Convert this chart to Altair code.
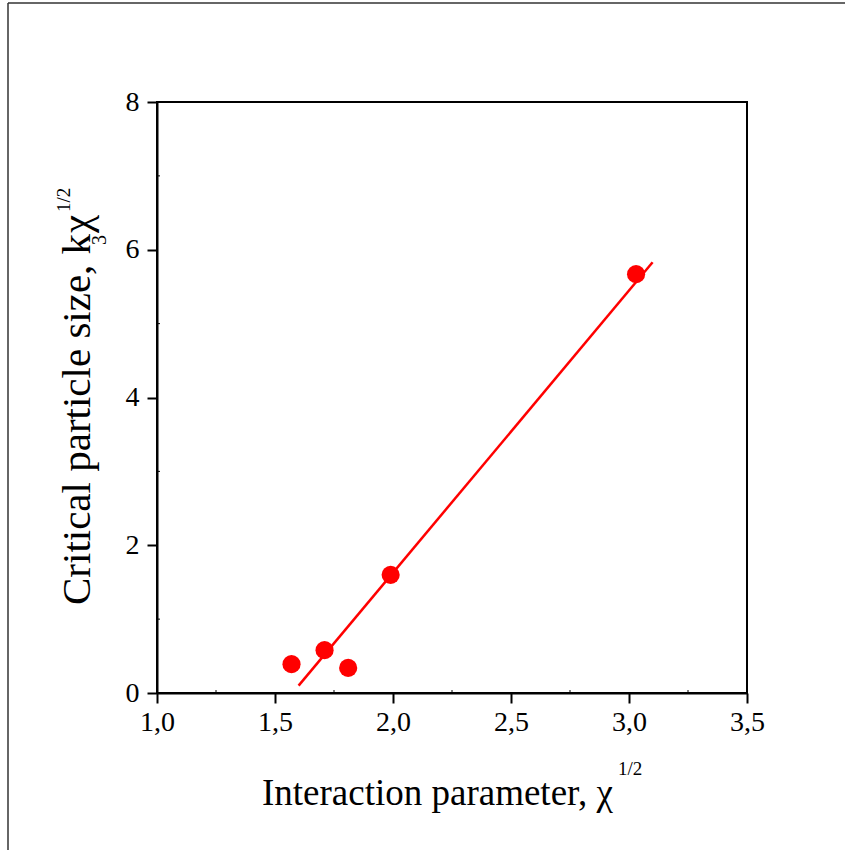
import altair as alt
import pandas as pd

# data
x_vals = [1.57, 1.71, 1.81, 1.99, 3.03]
y_vals = [0.39, 0.58, 0.34, 1.60, 5.67]
fit_x = [1.60, 3.10]
fit_y = [0.10, 5.83]
x_ticks = [1.0, 1.5, 2.0, 2.5, 3.0, 3.5]
y_ticks = [0, 2, 4, 6, 8]
x_minor = [1.25, 1.75, 2.25, 2.75, 3.25]
y_minor = [1, 3, 5, 7]

W, H = 590, 591
FONT = "Liberation Serif"
RED = "#ff0000"

pts = pd.DataFrame({"x": x_vals, "y": y_vals})
fit = pd.DataFrame({"x": fit_x, "y": fit_y})
one = pd.DataFrame({"t": [0]})

xs = alt.Scale(domain=[1.0, 3.5], nice=False, zero=False)
ys = alt.Scale(domain=[0, 8], nice=False, zero=False)

xaxis = alt.Axis(values=x_ticks, title=None, grid=False, labelFlush=False,
                 labelOverlap=False,
                 labelExpr="replace(format(datum.value, '.1f'), '.', ',')")
yaxis = alt.Axis(values=y_ticks, title=None, grid=False, format="d",
                 labelFlush=False, labelOverlap=False)

points = alt.Chart(pts).mark_circle(size=330, color=RED, opacity=1).encode(
    x=alt.X("x:Q", scale=xs, axis=xaxis),
    y=alt.Y("y:Q", scale=ys, axis=yaxis),
)

line = alt.Chart(fit).mark_line(color=RED, strokeWidth=2.5).encode(
    x=alt.X("x:Q", scale=xs),
    y=alt.Y("y:Q", scale=ys),
)

xminor = alt.Chart(pd.DataFrame({"x": x_minor})).mark_rule(color="black", strokeWidth=1).encode(
    x=alt.X("x:Q", scale=xs),
    y=alt.value(H),
    y2=alt.value(H - 3),
)
yminor = alt.Chart(pd.DataFrame({"y": y_minor})).mark_rule(color="black", strokeWidth=1).encode(
    y=alt.Y("y:Q", scale=ys),
    x=alt.value(0),
    x2=alt.value(3),
)


def txt(s, x, y, size, angle=0):
    kw = dict(text=s, font=FONT, fontSize=size, color="black", align="left",
              baseline="alphabetic")
    if angle:
        kw["angle"] = angle
    return alt.Chart(one).mark_text(**kw).encode(x=alt.value(x), y=alt.value(y))


xtitle = txt("Interaction parameter, χ", 105, 703, 37)
xsup = txt("1/2", 461, 673, 19)
ytitle = txt("Critical particle size, k", -67, 503, 41, 270)
ysub = txt("3", -51, 143, 20, 270)
ychi = txt("χ", -67, 131, 41, 270)
ysup = txt("1/2", -87, 110, 19, 270)

frame_left = alt.Chart(one).mark_rule(color="#333333", strokeWidth=1.5).encode(
    x=alt.value(-149), y=alt.value(-99), y2=alt.value(760))
frame_top = alt.Chart(one).mark_rule(color="#333333", strokeWidth=1.5).encode(
    x=alt.value(-149), x2=alt.value(700), y=alt.value(-99))

chart = alt.layer(
    frame_left, frame_top, line, points, xminor, yminor,
    xtitle, xsup, ytitle, ysub, ychi, ysup,
).properties(
    width=W, height=H,
    autosize=alt.AutoSizeParams(type="none"),
    padding={"left": 157, "top": 102, "right": 98, "bottom": 157},
).configure_view(
    stroke="black", strokeWidth=2,
).configure_axis(
    domainColor="black", domainWidth=2, tickColor="black", tickWidth=2,
    tickSize=10, labelFont=FONT, labelFontSize=28, labelColor="black",
    labelPadding=5,
).configure_axisY(labelPadding=8)

chart.save("out.html", embed_options={"renderer": "svg", "actions": False})
